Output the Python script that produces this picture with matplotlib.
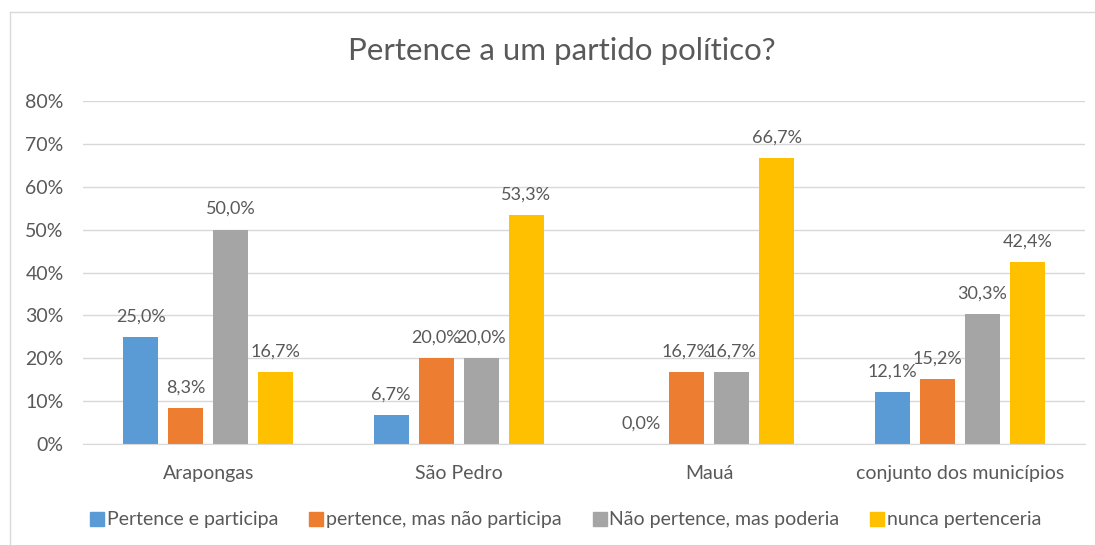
import matplotlib
matplotlib.use("Agg")
import matplotlib.pyplot as plt
from matplotlib.lines import Line2D
from matplotlib.ticker import FuncFormatter, MultipleLocator
import numpy as np

categories = ["Arapongas", "São Pedro", "Mauá", "conjunto dos municípios"]
series_names = ["Pertence e participa", "pertence, mas não participa",
                "Não pertence, mas poderia", "nunca pertenceria"]
pertence_participa = [25.0, 6.7, 0.0, 12.1]
pertence_nao_participa = [8.3, 20.0, 16.7, 15.2]
nao_pertence_poderia = [50.0, 20.0, 16.7, 30.3]
nunca_pertenceria = [16.7, 53.3, 66.7, 42.4]
series = [pertence_participa, pertence_nao_participa, nao_pertence_poderia, nunca_pertenceria]
colors = ["#5B9BD5", "#ED7D31", "#A5A5A5", "#FFC000"]

plt.rcParams['font.family'] = ['Lato', 'DejaVu Sans']
text_color = "#595959"
fs = 14

fig = plt.figure(figsize=(10.95, 5.45), dpi=100)
ax = fig.add_axes([83/1095, 101/545, (1085-83)/1095, (444-101)/545])

x = np.arange(len(categories))
width = 0.14
step = 0.18
for i, (vals, c) in enumerate(zip(series, colors)):
    pos = x + (i - 1.5) * step
    ax.bar(pos, vals, width=width, color=c, zorder=3, label=series_names[i])
    for xp, v in zip(pos, vals):
        ax.annotate(f"{v:.1f}%".replace(".", ","), (xp, v), xytext=(0, 9),
                    textcoords="offset points", ha="center", va="bottom",
                    fontsize=13, color=text_color)

ax.set_xlim(-0.5, len(categories) - 0.5)
ax.set_ylim(0, 80)
ax.yaxis.set_major_locator(MultipleLocator(10))
ax.yaxis.set_major_formatter(FuncFormatter(lambda v, p: f"{v:.0f}%"))
ax.grid(axis="y", color="#D9D9D9", linewidth=1, zorder=0)
ax.set_xticks(x)
ax.set_xticklabels(categories)
ax.tick_params(axis="both", length=0, labelsize=fs, labelcolor=text_color)
ax.tick_params(axis="x", pad=15)
ax.tick_params(axis="y", pad=14)
for s in ["top", "right", "left"]:
    ax.spines[s].set_visible(False)
ax.spines["bottom"].set_color("#D9D9D9")
ax.spines["bottom"].set_zorder(4)

fig.text(562/1095, 1 - 51/545, "Pertence a um partido político?", ha="center", va="center",
         fontsize=22.5, color=text_color)

handles = [Line2D([0], [0], marker="s", linestyle="none", markersize=10,
                  markerfacecolor=c, markeredgecolor=c) for c in colors]
fig.legend(handles, series_names, loc="center", bbox_to_anchor=(566/1095, 1 - 520/545),
           ncol=4, frameon=False, fontsize=fs, labelcolor=text_color,
           handletextpad=0.15, columnspacing=1.6, handlelength=0.7)

# chart border
fig.add_artist(Line2D([10/1095, 10/1095], [0, 1 - 12/545], transform=fig.transFigure,
                      color="#D9D9D9", linewidth=1))
fig.add_artist(Line2D([10/1095, 1], [1 - 12/545, 1 - 12/545], transform=fig.transFigure,
                      color="#D9D9D9", linewidth=1))

fig.savefig("out.png", dpi=100, facecolor="white")
